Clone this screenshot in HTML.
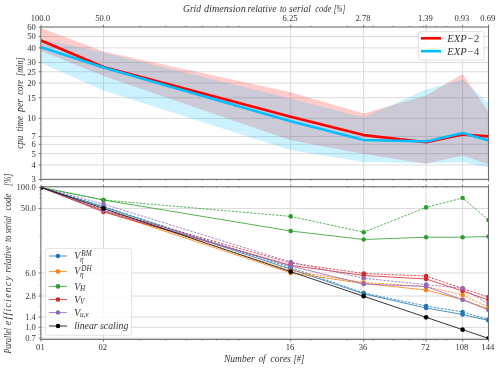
<!DOCTYPE html>
<html><head><meta charset="utf-8"><style>
html,body{margin:0;padding:0;background:#fff;width:500px;height:369px;overflow:hidden}
svg{display:block;will-change:transform}
text{font-family:"Liberation Serif", serif;fill:#333}
</style></head><body>
<svg width="500" height="369" viewBox="0 0 500 369">
<defs><clipPath id="ct"><rect x="40.85" y="27.0" width="447.65" height="152.4"/></clipPath>
<clipPath id="cb"><rect x="40.85" y="186.8" width="447.65" height="152.6"/></clipPath></defs>
<line x1="103.5" y1="27" x2="103.5" y2="179.4" stroke="#dbdbdb" stroke-width="1.0"/>
<line x1="290.7" y1="27" x2="290.7" y2="179.4" stroke="#dbdbdb" stroke-width="1.0"/>
<line x1="363.7" y1="27" x2="363.7" y2="179.4" stroke="#dbdbdb" stroke-width="1.0"/>
<line x1="426.1" y1="27" x2="426.1" y2="179.4" stroke="#dbdbdb" stroke-width="1.0"/>
<line x1="462.6" y1="27" x2="462.6" y2="179.4" stroke="#dbdbdb" stroke-width="1.0"/>
<line x1="488.5" y1="27" x2="488.5" y2="179.4" stroke="#dbdbdb" stroke-width="1.0"/>
<line x1="40.85" y1="36.5" x2="488.5" y2="36.5" stroke="#dbdbdb" stroke-width="1.0"/>
<line x1="40.85" y1="47.85" x2="488.5" y2="47.85" stroke="#dbdbdb" stroke-width="1.0"/>
<line x1="40.85" y1="62.48" x2="488.5" y2="62.48" stroke="#dbdbdb" stroke-width="1.0"/>
<line x1="40.85" y1="71.75" x2="488.5" y2="71.75" stroke="#dbdbdb" stroke-width="1.0"/>
<line x1="40.85" y1="83.1" x2="488.5" y2="83.1" stroke="#dbdbdb" stroke-width="1.0"/>
<line x1="40.85" y1="97.73" x2="488.5" y2="97.73" stroke="#dbdbdb" stroke-width="1.0"/>
<line x1="40.85" y1="118.35" x2="488.5" y2="118.35" stroke="#dbdbdb" stroke-width="1.0"/>
<line x1="40.85" y1="136.49" x2="488.5" y2="136.49" stroke="#dbdbdb" stroke-width="1.0"/>
<line x1="40.85" y1="144.33" x2="488.5" y2="144.33" stroke="#dbdbdb" stroke-width="1.0"/>
<line x1="40.85" y1="153.6" x2="488.5" y2="153.6" stroke="#dbdbdb" stroke-width="1.0"/>
<line x1="40.85" y1="164.95" x2="488.5" y2="164.95" stroke="#dbdbdb" stroke-width="1.0"/>
<g clip-path="url(#ct)">
<polygon points="41.1,28 103.5,51.5 290.7,92.2 363.7,113.6 426.1,95.6 462.6,74 488.5,112 488.5,164.2 462.6,155.6 426.1,163.8 363.7,154 290.7,140.2 103.5,76 41.1,51" fill="#ff0000" fill-opacity="0.2"/>
<polygon points="41.1,39 103.5,52.5 290.7,98.6 363.7,117.6 426.1,89.6 462.6,79.8 488.5,103 488.5,167.6 462.6,162.2 426.1,163.2 363.7,162 290.7,150.2 103.5,90.5 41.1,63.1" fill="#00bfff" fill-opacity="0.2"/>
<polyline points="41.1,40.5 103.5,67 290.7,116.8 363.7,135.1 426.1,142.2 462.6,134.5 488.5,136.4" fill="none" stroke="#ff0000" stroke-width="2.6" stroke-linejoin="round"/>
<polyline points="41.1,47.2 103.5,67.5 290.7,121.2 363.7,139.95 426.1,141.5 462.6,133.05 488.5,140.6" fill="none" stroke="#00bfff" stroke-width="2.6" stroke-linejoin="round"/>
</g>
<rect x="40.85" y="27.0" width="447.65" height="152.4" fill="none" stroke="#6e6e6e" stroke-width="1.1"/>
<line x1="38.65" y1="27.23" x2="40.85" y2="27.23" stroke="#555" stroke-width="0.8"/>
<line x1="38.65" y1="36.5" x2="40.85" y2="36.5" stroke="#555" stroke-width="0.8"/>
<line x1="38.65" y1="47.85" x2="40.85" y2="47.85" stroke="#555" stroke-width="0.8"/>
<line x1="38.65" y1="62.48" x2="40.85" y2="62.48" stroke="#555" stroke-width="0.8"/>
<line x1="38.65" y1="71.75" x2="40.85" y2="71.75" stroke="#555" stroke-width="0.8"/>
<line x1="38.65" y1="83.1" x2="40.85" y2="83.1" stroke="#555" stroke-width="0.8"/>
<line x1="38.65" y1="97.73" x2="40.85" y2="97.73" stroke="#555" stroke-width="0.8"/>
<line x1="38.65" y1="118.35" x2="40.85" y2="118.35" stroke="#555" stroke-width="0.8"/>
<line x1="38.65" y1="136.49" x2="40.85" y2="136.49" stroke="#555" stroke-width="0.8"/>
<line x1="38.65" y1="144.33" x2="40.85" y2="144.33" stroke="#555" stroke-width="0.8"/>
<line x1="38.65" y1="153.6" x2="40.85" y2="153.6" stroke="#555" stroke-width="0.8"/>
<line x1="38.65" y1="164.95" x2="40.85" y2="164.95" stroke="#555" stroke-width="0.8"/>
<line x1="38.65" y1="179.58" x2="40.85" y2="179.58" stroke="#555" stroke-width="0.8"/>
<line x1="39.55" y1="129.7" x2="40.85" y2="129.7" stroke="#555" stroke-width="0.6"/>
<line x1="39.55" y1="123.71" x2="40.85" y2="123.71" stroke="#555" stroke-width="0.6"/>
<line x1="41.1" y1="24.8" x2="41.1" y2="27" stroke="#555" stroke-width="0.8"/>
<line x1="41.1" y1="179.4" x2="41.1" y2="181.6" stroke="#555" stroke-width="0.8"/>
<line x1="103.5" y1="24.8" x2="103.5" y2="27" stroke="#555" stroke-width="0.8"/>
<line x1="103.5" y1="179.4" x2="103.5" y2="181.6" stroke="#555" stroke-width="0.8"/>
<line x1="290.7" y1="24.8" x2="290.7" y2="27" stroke="#555" stroke-width="0.8"/>
<line x1="290.7" y1="179.4" x2="290.7" y2="181.6" stroke="#555" stroke-width="0.8"/>
<line x1="363.7" y1="24.8" x2="363.7" y2="27" stroke="#555" stroke-width="0.8"/>
<line x1="363.7" y1="179.4" x2="363.7" y2="181.6" stroke="#555" stroke-width="0.8"/>
<line x1="426.1" y1="24.8" x2="426.1" y2="27" stroke="#555" stroke-width="0.8"/>
<line x1="426.1" y1="179.4" x2="426.1" y2="181.6" stroke="#555" stroke-width="0.8"/>
<line x1="462.6" y1="24.8" x2="462.6" y2="27" stroke="#555" stroke-width="0.8"/>
<line x1="462.6" y1="179.4" x2="462.6" y2="181.6" stroke="#555" stroke-width="0.8"/>
<line x1="488.5" y1="24.8" x2="488.5" y2="27" stroke="#555" stroke-width="0.8"/>
<line x1="488.5" y1="179.4" x2="488.5" y2="181.6" stroke="#555" stroke-width="0.8"/>
<line x1="140" y1="25.7" x2="140" y2="27" stroke="#555" stroke-width="0.6"/>
<line x1="140" y1="179.4" x2="140" y2="180.7" stroke="#555" stroke-width="0.6"/>
<line x1="165.9" y1="25.7" x2="165.9" y2="27" stroke="#555" stroke-width="0.6"/>
<line x1="165.9" y1="179.4" x2="165.9" y2="180.7" stroke="#555" stroke-width="0.6"/>
<line x1="185.99" y1="25.7" x2="185.99" y2="27" stroke="#555" stroke-width="0.6"/>
<line x1="185.99" y1="179.4" x2="185.99" y2="180.7" stroke="#555" stroke-width="0.6"/>
<line x1="202.4" y1="25.7" x2="202.4" y2="27" stroke="#555" stroke-width="0.6"/>
<line x1="202.4" y1="179.4" x2="202.4" y2="180.7" stroke="#555" stroke-width="0.6"/>
<line x1="216.28" y1="25.7" x2="216.28" y2="27" stroke="#555" stroke-width="0.6"/>
<line x1="216.28" y1="179.4" x2="216.28" y2="180.7" stroke="#555" stroke-width="0.6"/>
<line x1="228.3" y1="25.7" x2="228.3" y2="27" stroke="#555" stroke-width="0.6"/>
<line x1="228.3" y1="179.4" x2="228.3" y2="180.7" stroke="#555" stroke-width="0.6"/>
<line x1="238.9" y1="25.7" x2="238.9" y2="27" stroke="#555" stroke-width="0.6"/>
<line x1="238.9" y1="179.4" x2="238.9" y2="180.7" stroke="#555" stroke-width="0.6"/>
<line x1="310.79" y1="25.7" x2="310.79" y2="27" stroke="#555" stroke-width="0.6"/>
<line x1="310.79" y1="179.4" x2="310.79" y2="180.7" stroke="#555" stroke-width="0.6"/>
<line x1="347.29" y1="25.7" x2="347.29" y2="27" stroke="#555" stroke-width="0.6"/>
<line x1="347.29" y1="179.4" x2="347.29" y2="180.7" stroke="#555" stroke-width="0.6"/>
<line x1="373.19" y1="25.7" x2="373.19" y2="27" stroke="#555" stroke-width="0.6"/>
<line x1="373.19" y1="179.4" x2="373.19" y2="180.7" stroke="#555" stroke-width="0.6"/>
<line x1="393.27" y1="25.7" x2="393.27" y2="27" stroke="#555" stroke-width="0.6"/>
<line x1="393.27" y1="179.4" x2="393.27" y2="180.7" stroke="#555" stroke-width="0.6"/>
<line x1="409.69" y1="25.7" x2="409.69" y2="27" stroke="#555" stroke-width="0.6"/>
<line x1="409.69" y1="179.4" x2="409.69" y2="180.7" stroke="#555" stroke-width="0.6"/>
<line x1="423.56" y1="25.7" x2="423.56" y2="27" stroke="#555" stroke-width="0.6"/>
<line x1="423.56" y1="179.4" x2="423.56" y2="180.7" stroke="#555" stroke-width="0.6"/>
<line x1="435.59" y1="25.7" x2="435.59" y2="27" stroke="#555" stroke-width="0.6"/>
<line x1="435.59" y1="179.4" x2="435.59" y2="180.7" stroke="#555" stroke-width="0.6"/>
<line x1="446.19" y1="25.7" x2="446.19" y2="27" stroke="#555" stroke-width="0.6"/>
<line x1="446.19" y1="179.4" x2="446.19" y2="180.7" stroke="#555" stroke-width="0.6"/>
<text x="35.9" y="30.13" font-size="8.6" text-anchor="end">60</text>
<text x="35.9" y="39.4" font-size="8.6" text-anchor="end">50</text>
<text x="35.9" y="50.75" font-size="8.6" text-anchor="end">40</text>
<text x="35.9" y="65.38" font-size="8.6" text-anchor="end">30</text>
<text x="35.9" y="74.65" font-size="8.6" text-anchor="end">25</text>
<text x="35.9" y="86" font-size="8.6" text-anchor="end">20</text>
<text x="35.9" y="100.63" font-size="8.6" text-anchor="end">15</text>
<text x="35.9" y="121.25" font-size="8.6" text-anchor="end">10</text>
<text x="35.9" y="139.39" font-size="8.6" text-anchor="end">7</text>
<text x="35.9" y="147.23" font-size="8.6" text-anchor="end">6</text>
<text x="35.9" y="156.5" font-size="8.6" text-anchor="end">5</text>
<text x="35.9" y="167.85" font-size="8.6" text-anchor="end">4</text>
<text x="35.9" y="182.48" font-size="8.6" text-anchor="end">3</text>
<text x="40.4" y="21" font-size="8.6" text-anchor="middle">100.0</text>
<text x="102.8" y="21" font-size="8.6" text-anchor="middle">50.0</text>
<text x="290" y="21" font-size="8.6" text-anchor="middle">6.25</text>
<text x="363" y="21" font-size="8.6" text-anchor="middle">2.78</text>
<text x="425.4" y="21" font-size="8.6" text-anchor="middle">1.39</text>
<text x="461.9" y="21" font-size="8.6" text-anchor="middle">0.93</text>
<text x="487.8" y="21" font-size="8.6" text-anchor="middle">0.69</text>
<text x="183" y="11.6" font-size="9.6" font-style="italic" textLength="18" lengthAdjust="spacingAndGlyphs">Grid</text>
<text x="204" y="11.6" font-size="9.6" font-style="italic" textLength="41.8" lengthAdjust="spacingAndGlyphs">dimension</text>
<text x="247.6" y="11.6" font-size="9.6" font-style="italic" textLength="28.8" lengthAdjust="spacingAndGlyphs">relative</text>
<text x="280" y="11.6" font-size="9.6" font-style="italic" textLength="6.6" lengthAdjust="spacingAndGlyphs">to</text>
<text x="289" y="11.6" font-size="9.6" font-style="italic" textLength="22" lengthAdjust="spacingAndGlyphs">serial</text>
<text x="315.2" y="11.6" font-size="9.6" font-style="italic" textLength="16.2" lengthAdjust="spacingAndGlyphs">code</text>
<text x="333.8" y="11.6" font-size="9.6" font-style="italic" textLength="11.4" lengthAdjust="spacingAndGlyphs">[%]</text>
<g transform="translate(23,0) rotate(-90)">
<text x="-148.7" y="0" font-size="9.6" font-style="italic" textLength="13.1" lengthAdjust="spacingAndGlyphs">cpu</text>
<text x="-131.6" y="0" font-size="9.6" font-style="italic" textLength="15.5" lengthAdjust="spacingAndGlyphs">time</text>
<text x="-112" y="0" font-size="9.6" font-style="italic" textLength="13.2" lengthAdjust="spacingAndGlyphs">per</text>
<text x="-94.7" y="0" font-size="9.6" font-style="italic" textLength="14.7" lengthAdjust="spacingAndGlyphs">core</text>
<text x="-76" y="0" font-size="9.6" font-style="italic" textLength="18.7" lengthAdjust="spacingAndGlyphs">[min]</text>
</g>
<rect x="418.5" y="31.5" width="65.7" height="28.6" rx="2" ry="2" fill="#fff" fill-opacity="0.8" stroke="#dcdcdc" stroke-width="0.8"/>
<line x1="421" y1="38.3" x2="441" y2="38.3" stroke="#ff0000" stroke-width="2.6"/>
<line x1="421" y1="51.2" x2="441" y2="51.2" stroke="#00bfff" stroke-width="2.6"/>
<text x="447.2" y="42.1" font-size="10.5" textLength="32" lengthAdjust="spacing"><tspan font-style="italic">EXP&#8722;</tspan>2</text>
<text x="447.2" y="55" font-size="10.5" textLength="32" lengthAdjust="spacing"><tspan font-style="italic">EXP&#8722;</tspan>4</text>
<line x1="103.5" y1="186.8" x2="103.5" y2="339.4" stroke="#dbdbdb" stroke-width="1.0"/>
<line x1="290.7" y1="186.8" x2="290.7" y2="339.4" stroke="#dbdbdb" stroke-width="1.0"/>
<line x1="363.7" y1="186.8" x2="363.7" y2="339.4" stroke="#dbdbdb" stroke-width="1.0"/>
<line x1="426.1" y1="186.8" x2="426.1" y2="339.4" stroke="#dbdbdb" stroke-width="1.0"/>
<line x1="462.6" y1="186.8" x2="462.6" y2="339.4" stroke="#dbdbdb" stroke-width="1.0"/>
<line x1="488.5" y1="186.8" x2="488.5" y2="339.4" stroke="#dbdbdb" stroke-width="1.0"/>
<line x1="40.85" y1="208.49" x2="488.5" y2="208.49" stroke="#dbdbdb" stroke-width="1.0"/>
<line x1="40.85" y1="272.9" x2="488.5" y2="272.9" stroke="#dbdbdb" stroke-width="1.0"/>
<line x1="40.85" y1="296.05" x2="488.5" y2="296.05" stroke="#dbdbdb" stroke-width="1.0"/>
<line x1="40.85" y1="317.1" x2="488.5" y2="317.1" stroke="#dbdbdb" stroke-width="1.0"/>
<line x1="40.85" y1="327.32" x2="488.5" y2="327.32" stroke="#dbdbdb" stroke-width="1.0"/>
<line x1="40.85" y1="338.15" x2="488.5" y2="338.15" stroke="#dbdbdb" stroke-width="1.0"/>
<g clip-path="url(#cb)">
<polyline points="41.1,187.44 103.5,207 290.7,269.2 363.7,293.8 426.1,308 462.6,314.5 488.5,320.5" fill="none" stroke="#1f77b4" stroke-width="0.8"/>
<circle cx="41.1" cy="187.44" r="2.3" fill="#1f77b4"/>
<circle cx="103.5" cy="207" r="2.3" fill="#1f77b4"/>
<circle cx="290.7" cy="269.2" r="2.3" fill="#1f77b4"/>
<circle cx="363.7" cy="293.8" r="2.3" fill="#1f77b4"/>
<circle cx="426.1" cy="308" r="2.3" fill="#1f77b4"/>
<circle cx="462.6" cy="314.5" r="2.3" fill="#1f77b4"/>
<circle cx="488.5" cy="320.5" r="2.3" fill="#1f77b4"/>
<polyline points="41.1,187.44 103.5,206.5 290.7,267.6 363.7,293 426.1,306 462.6,312 488.5,319.5" fill="none" stroke="#1f77b4" stroke-width="0.8" stroke-dasharray="2.4,1.3"/>
<circle cx="41.1" cy="187.44" r="2.3" fill="#1f77b4"/>
<circle cx="103.5" cy="206.5" r="2.3" fill="#1f77b4"/>
<circle cx="290.7" cy="267.6" r="2.3" fill="#1f77b4"/>
<circle cx="363.7" cy="293" r="2.3" fill="#1f77b4"/>
<circle cx="426.1" cy="306" r="2.3" fill="#1f77b4"/>
<circle cx="462.6" cy="312" r="2.3" fill="#1f77b4"/>
<circle cx="488.5" cy="319.5" r="2.3" fill="#1f77b4"/>
<polyline points="41.1,187.44 103.5,211 290.7,272.9 363.7,283.5 426.1,290 462.6,299.6 488.5,309" fill="none" stroke="#ff7f0e" stroke-width="0.8"/>
<circle cx="41.1" cy="187.44" r="2.3" fill="#ff7f0e"/>
<circle cx="103.5" cy="211" r="2.3" fill="#ff7f0e"/>
<circle cx="290.7" cy="272.9" r="2.3" fill="#ff7f0e"/>
<circle cx="363.7" cy="283.5" r="2.3" fill="#ff7f0e"/>
<circle cx="426.1" cy="290" r="2.3" fill="#ff7f0e"/>
<circle cx="462.6" cy="299.6" r="2.3" fill="#ff7f0e"/>
<circle cx="488.5" cy="309" r="2.3" fill="#ff7f0e"/>
<polyline points="41.1,187.44 103.5,210.5 290.7,270.5 363.7,282.5 426.1,286.5 462.6,295 488.5,306.9" fill="none" stroke="#ff7f0e" stroke-width="0.8" stroke-dasharray="2.4,1.3"/>
<circle cx="41.1" cy="187.44" r="2.3" fill="#ff7f0e"/>
<circle cx="103.5" cy="210.5" r="2.3" fill="#ff7f0e"/>
<circle cx="290.7" cy="270.5" r="2.3" fill="#ff7f0e"/>
<circle cx="363.7" cy="282.5" r="2.3" fill="#ff7f0e"/>
<circle cx="426.1" cy="286.5" r="2.3" fill="#ff7f0e"/>
<circle cx="462.6" cy="295" r="2.3" fill="#ff7f0e"/>
<circle cx="488.5" cy="306.9" r="2.3" fill="#ff7f0e"/>
<polyline points="41.1,187.44 103.5,200 290.7,231 363.7,239.5 426.1,237.2 462.6,237.2 488.5,236.6" fill="none" stroke="#2ca02c" stroke-width="0.8"/>
<circle cx="41.1" cy="187.44" r="2.3" fill="#2ca02c"/>
<circle cx="103.5" cy="200" r="2.3" fill="#2ca02c"/>
<circle cx="290.7" cy="231" r="2.3" fill="#2ca02c"/>
<circle cx="363.7" cy="239.5" r="2.3" fill="#2ca02c"/>
<circle cx="426.1" cy="237.2" r="2.3" fill="#2ca02c"/>
<circle cx="462.6" cy="237.2" r="2.3" fill="#2ca02c"/>
<circle cx="488.5" cy="236.6" r="2.3" fill="#2ca02c"/>
<polyline points="41.1,187.44 103.5,200 290.7,216.4 363.7,232.2 426.1,207.4 462.6,198 488.5,220" fill="none" stroke="#2ca02c" stroke-width="0.8" stroke-dasharray="2.4,1.3"/>
<circle cx="41.1" cy="187.44" r="2.3" fill="#2ca02c"/>
<circle cx="103.5" cy="200" r="2.3" fill="#2ca02c"/>
<circle cx="290.7" cy="216.4" r="2.3" fill="#2ca02c"/>
<circle cx="363.7" cy="232.2" r="2.3" fill="#2ca02c"/>
<circle cx="426.1" cy="207.4" r="2.3" fill="#2ca02c"/>
<circle cx="462.6" cy="198" r="2.3" fill="#2ca02c"/>
<circle cx="488.5" cy="220" r="2.3" fill="#2ca02c"/>
<polyline points="41.1,187.44 103.5,212 290.7,265.3 363.7,275.5 426.1,279 462.6,291 488.5,300" fill="none" stroke="#d62728" stroke-width="0.8"/>
<circle cx="41.1" cy="187.44" r="2.3" fill="#d62728"/>
<circle cx="103.5" cy="212" r="2.3" fill="#d62728"/>
<circle cx="290.7" cy="265.3" r="2.3" fill="#d62728"/>
<circle cx="363.7" cy="275.5" r="2.3" fill="#d62728"/>
<circle cx="426.1" cy="279" r="2.3" fill="#d62728"/>
<circle cx="462.6" cy="291" r="2.3" fill="#d62728"/>
<circle cx="488.5" cy="300" r="2.3" fill="#d62728"/>
<polyline points="41.1,187.44 103.5,210 290.7,263 363.7,273.5 426.1,276 462.6,288.5 488.5,297" fill="none" stroke="#d62728" stroke-width="0.8" stroke-dasharray="2.4,1.3"/>
<circle cx="41.1" cy="187.44" r="2.3" fill="#d62728"/>
<circle cx="103.5" cy="210" r="2.3" fill="#d62728"/>
<circle cx="290.7" cy="263" r="2.3" fill="#d62728"/>
<circle cx="363.7" cy="273.5" r="2.3" fill="#d62728"/>
<circle cx="426.1" cy="276" r="2.3" fill="#d62728"/>
<circle cx="462.6" cy="288.5" r="2.3" fill="#d62728"/>
<circle cx="488.5" cy="297" r="2.3" fill="#d62728"/>
<polyline points="41.1,187.44 103.5,210.6 290.7,266 363.7,284 426.1,286.5 462.6,299.8 488.5,310" fill="none" stroke="#9467bd" stroke-width="0.8"/>
<circle cx="41.1" cy="187.44" r="2.3" fill="#9467bd"/>
<circle cx="103.5" cy="210.6" r="2.3" fill="#9467bd"/>
<circle cx="290.7" cy="266" r="2.3" fill="#9467bd"/>
<circle cx="363.7" cy="284" r="2.3" fill="#9467bd"/>
<circle cx="426.1" cy="286.5" r="2.3" fill="#9467bd"/>
<circle cx="462.6" cy="299.8" r="2.3" fill="#9467bd"/>
<circle cx="488.5" cy="310" r="2.3" fill="#9467bd"/>
<polyline points="41.1,187.44 103.5,204.1 290.7,262 363.7,278.3 426.1,284.6 462.6,288.3 488.5,304" fill="none" stroke="#9467bd" stroke-width="0.8" stroke-dasharray="2.4,1.3"/>
<circle cx="41.1" cy="187.44" r="2.3" fill="#9467bd"/>
<circle cx="103.5" cy="204.1" r="2.3" fill="#9467bd"/>
<circle cx="290.7" cy="262" r="2.3" fill="#9467bd"/>
<circle cx="363.7" cy="278.3" r="2.3" fill="#9467bd"/>
<circle cx="426.1" cy="284.6" r="2.3" fill="#9467bd"/>
<circle cx="462.6" cy="288.3" r="2.3" fill="#9467bd"/>
<circle cx="488.5" cy="304" r="2.3" fill="#9467bd"/>
<polyline points="41.1,187.44 103.5,208.49 290.7,271.66 363.7,296.29 426.1,317.34 462.6,329.66 488.5,338.4" fill="none" stroke="#000" stroke-width="0.8"/>
<circle cx="41.1" cy="187.44" r="2.3" fill="#000"/>
<circle cx="103.5" cy="208.49" r="2.3" fill="#000"/>
<circle cx="290.7" cy="271.66" r="2.3" fill="#000"/>
<circle cx="363.7" cy="296.29" r="2.3" fill="#000"/>
<circle cx="426.1" cy="317.34" r="2.3" fill="#000"/>
<circle cx="462.6" cy="329.66" r="2.3" fill="#000"/>
<circle cx="488.5" cy="338.4" r="2.3" fill="#000"/>
</g>
<rect x="40.85" y="186.8" width="447.65" height="152.6" fill="none" stroke="#6e6e6e" stroke-width="1.1"/>
<line x1="38.65" y1="187.44" x2="40.85" y2="187.44" stroke="#555" stroke-width="0.8"/>
<line x1="38.65" y1="208.49" x2="40.85" y2="208.49" stroke="#555" stroke-width="0.8"/>
<line x1="38.65" y1="272.9" x2="40.85" y2="272.9" stroke="#555" stroke-width="0.8"/>
<line x1="38.65" y1="296.05" x2="40.85" y2="296.05" stroke="#555" stroke-width="0.8"/>
<line x1="38.65" y1="317.1" x2="40.85" y2="317.1" stroke="#555" stroke-width="0.8"/>
<line x1="38.65" y1="327.32" x2="40.85" y2="327.32" stroke="#555" stroke-width="0.8"/>
<line x1="38.65" y1="338.15" x2="40.85" y2="338.15" stroke="#555" stroke-width="0.8"/>
<line x1="39.55" y1="334.1" x2="40.85" y2="334.1" stroke="#555" stroke-width="0.6"/>
<line x1="39.55" y1="330.52" x2="40.85" y2="330.52" stroke="#555" stroke-width="0.6"/>
<line x1="39.55" y1="306.27" x2="40.85" y2="306.27" stroke="#555" stroke-width="0.6"/>
<line x1="39.55" y1="293.95" x2="40.85" y2="293.95" stroke="#555" stroke-width="0.6"/>
<line x1="39.55" y1="285.21" x2="40.85" y2="285.21" stroke="#555" stroke-width="0.6"/>
<line x1="39.55" y1="278.43" x2="40.85" y2="278.43" stroke="#555" stroke-width="0.6"/>
<line x1="39.55" y1="268.21" x2="40.85" y2="268.21" stroke="#555" stroke-width="0.6"/>
<line x1="39.55" y1="264.16" x2="40.85" y2="264.16" stroke="#555" stroke-width="0.6"/>
<line x1="39.55" y1="260.58" x2="40.85" y2="260.58" stroke="#555" stroke-width="0.6"/>
<line x1="39.55" y1="257.38" x2="40.85" y2="257.38" stroke="#555" stroke-width="0.6"/>
<line x1="39.55" y1="236.33" x2="40.85" y2="236.33" stroke="#555" stroke-width="0.6"/>
<line x1="39.55" y1="224.01" x2="40.85" y2="224.01" stroke="#555" stroke-width="0.6"/>
<line x1="39.55" y1="215.27" x2="40.85" y2="215.27" stroke="#555" stroke-width="0.6"/>
<line x1="39.55" y1="202.96" x2="40.85" y2="202.96" stroke="#555" stroke-width="0.6"/>
<line x1="39.55" y1="198.27" x2="40.85" y2="198.27" stroke="#555" stroke-width="0.6"/>
<line x1="39.55" y1="194.22" x2="40.85" y2="194.22" stroke="#555" stroke-width="0.6"/>
<line x1="39.55" y1="190.64" x2="40.85" y2="190.64" stroke="#555" stroke-width="0.6"/>
<line x1="41.1" y1="339.4" x2="41.1" y2="341.6" stroke="#555" stroke-width="0.8"/>
<line x1="41.1" y1="184.6" x2="41.1" y2="186.8" stroke="#555" stroke-width="0.8"/>
<line x1="103.5" y1="339.4" x2="103.5" y2="341.6" stroke="#555" stroke-width="0.8"/>
<line x1="103.5" y1="184.6" x2="103.5" y2="186.8" stroke="#555" stroke-width="0.8"/>
<line x1="290.7" y1="339.4" x2="290.7" y2="341.6" stroke="#555" stroke-width="0.8"/>
<line x1="290.7" y1="184.6" x2="290.7" y2="186.8" stroke="#555" stroke-width="0.8"/>
<line x1="363.7" y1="339.4" x2="363.7" y2="341.6" stroke="#555" stroke-width="0.8"/>
<line x1="363.7" y1="184.6" x2="363.7" y2="186.8" stroke="#555" stroke-width="0.8"/>
<line x1="426.1" y1="339.4" x2="426.1" y2="341.6" stroke="#555" stroke-width="0.8"/>
<line x1="426.1" y1="184.6" x2="426.1" y2="186.8" stroke="#555" stroke-width="0.8"/>
<line x1="462.6" y1="339.4" x2="462.6" y2="341.6" stroke="#555" stroke-width="0.8"/>
<line x1="462.6" y1="184.6" x2="462.6" y2="186.8" stroke="#555" stroke-width="0.8"/>
<line x1="488.5" y1="339.4" x2="488.5" y2="341.6" stroke="#555" stroke-width="0.8"/>
<line x1="488.5" y1="184.6" x2="488.5" y2="186.8" stroke="#555" stroke-width="0.8"/>
<line x1="140" y1="339.4" x2="140" y2="340.7" stroke="#555" stroke-width="0.6"/>
<line x1="140" y1="186" x2="140" y2="187.6" stroke="#555" stroke-width="0.6"/>
<line x1="165.9" y1="339.4" x2="165.9" y2="340.7" stroke="#555" stroke-width="0.6"/>
<line x1="165.9" y1="186" x2="165.9" y2="187.6" stroke="#555" stroke-width="0.6"/>
<line x1="185.99" y1="339.4" x2="185.99" y2="340.7" stroke="#555" stroke-width="0.6"/>
<line x1="185.99" y1="186" x2="185.99" y2="187.6" stroke="#555" stroke-width="0.6"/>
<line x1="202.4" y1="339.4" x2="202.4" y2="340.7" stroke="#555" stroke-width="0.6"/>
<line x1="202.4" y1="186" x2="202.4" y2="187.6" stroke="#555" stroke-width="0.6"/>
<line x1="216.28" y1="339.4" x2="216.28" y2="340.7" stroke="#555" stroke-width="0.6"/>
<line x1="216.28" y1="186" x2="216.28" y2="187.6" stroke="#555" stroke-width="0.6"/>
<line x1="228.3" y1="339.4" x2="228.3" y2="340.7" stroke="#555" stroke-width="0.6"/>
<line x1="228.3" y1="186" x2="228.3" y2="187.6" stroke="#555" stroke-width="0.6"/>
<line x1="238.9" y1="339.4" x2="238.9" y2="340.7" stroke="#555" stroke-width="0.6"/>
<line x1="238.9" y1="186" x2="238.9" y2="187.6" stroke="#555" stroke-width="0.6"/>
<line x1="310.79" y1="339.4" x2="310.79" y2="340.7" stroke="#555" stroke-width="0.6"/>
<line x1="310.79" y1="186" x2="310.79" y2="187.6" stroke="#555" stroke-width="0.6"/>
<line x1="347.29" y1="339.4" x2="347.29" y2="340.7" stroke="#555" stroke-width="0.6"/>
<line x1="347.29" y1="186" x2="347.29" y2="187.6" stroke="#555" stroke-width="0.6"/>
<line x1="373.19" y1="339.4" x2="373.19" y2="340.7" stroke="#555" stroke-width="0.6"/>
<line x1="373.19" y1="186" x2="373.19" y2="187.6" stroke="#555" stroke-width="0.6"/>
<line x1="393.27" y1="339.4" x2="393.27" y2="340.7" stroke="#555" stroke-width="0.6"/>
<line x1="393.27" y1="186" x2="393.27" y2="187.6" stroke="#555" stroke-width="0.6"/>
<line x1="409.69" y1="339.4" x2="409.69" y2="340.7" stroke="#555" stroke-width="0.6"/>
<line x1="409.69" y1="186" x2="409.69" y2="187.6" stroke="#555" stroke-width="0.6"/>
<line x1="423.56" y1="339.4" x2="423.56" y2="340.7" stroke="#555" stroke-width="0.6"/>
<line x1="423.56" y1="186" x2="423.56" y2="187.6" stroke="#555" stroke-width="0.6"/>
<line x1="435.59" y1="339.4" x2="435.59" y2="340.7" stroke="#555" stroke-width="0.6"/>
<line x1="435.59" y1="186" x2="435.59" y2="187.6" stroke="#555" stroke-width="0.6"/>
<line x1="446.19" y1="339.4" x2="446.19" y2="340.7" stroke="#555" stroke-width="0.6"/>
<line x1="446.19" y1="186" x2="446.19" y2="187.6" stroke="#555" stroke-width="0.6"/>
<text x="35.9" y="190.34" font-size="8.6" text-anchor="end">100.0</text>
<text x="35.9" y="211.39" font-size="8.6" text-anchor="end">50.0</text>
<text x="35.9" y="275.8" font-size="8.6" text-anchor="end">6.0</text>
<text x="35.9" y="298.95" font-size="8.6" text-anchor="end">2.8</text>
<text x="35.9" y="320" font-size="8.6" text-anchor="end">1.4</text>
<text x="35.9" y="330.22" font-size="8.6" text-anchor="end">1.0</text>
<text x="35.9" y="341.05" font-size="8.6" text-anchor="end">0.7</text>
<text x="40.4" y="350" font-size="8.6" text-anchor="middle">01</text>
<text x="102.8" y="350" font-size="8.6" text-anchor="middle">02</text>
<text x="290" y="350" font-size="8.6" text-anchor="middle">16</text>
<text x="363" y="350" font-size="8.6" text-anchor="middle">36</text>
<text x="425.4" y="350" font-size="8.6" text-anchor="middle">72</text>
<text x="461.9" y="350" font-size="8.6" text-anchor="middle">108</text>
<text x="487.8" y="350" font-size="8.6" text-anchor="middle">144</text>
<text x="224" y="361.7" font-size="9.8" font-style="italic" textLength="30.7" lengthAdjust="spacingAndGlyphs">Number</text>
<text x="258.7" y="361.7" font-size="9.8" font-style="italic" textLength="6.9" lengthAdjust="spacingAndGlyphs">of</text>
<text x="270.6" y="361.7" font-size="9.8" font-style="italic" textLength="20.2" lengthAdjust="spacingAndGlyphs">cores</text>
<text x="293.5" y="361.7" font-size="9.8" font-style="italic" textLength="10.8" lengthAdjust="spacingAndGlyphs">[#]</text>
<g transform="translate(11.4,0) rotate(-90)">
<text x="-353.6" y="0" font-size="9.6" font-style="italic" textLength="25.6" lengthAdjust="spacingAndGlyphs">Parallel</text>
<text x="-325" y="0" font-size="9.6" font-style="italic" textLength="48.8" lengthAdjust="spacing">efficiency</text>
<text x="-272.4" y="0" font-size="9.6" font-style="italic" textLength="26.5" lengthAdjust="spacingAndGlyphs">relative</text>
<text x="-242" y="0" font-size="9.6" font-style="italic" textLength="6.6" lengthAdjust="spacingAndGlyphs">to</text>
<text x="-233.3" y="0" font-size="9.6" font-style="italic" textLength="17.1" lengthAdjust="spacingAndGlyphs">serial</text>
<text x="-210.5" y="0" font-size="9.6" font-style="italic" textLength="17" lengthAdjust="spacingAndGlyphs">code</text>
<text x="-185.9" y="0" font-size="9.6" font-style="italic" textLength="12.4" lengthAdjust="spacingAndGlyphs">[%]</text>
</g>
<rect x="45.6" y="248.4" width="86" height="86.9" rx="2" ry="2" fill="#fff" fill-opacity="0.8" stroke="#dcdcdc" stroke-width="0.8"/>
<line x1="49" y1="256" x2="67" y2="256" stroke="#1f77b4" stroke-width="0.8"/>
<circle cx="58" cy="256" r="2.3" fill="#1f77b4"/>
<line x1="49" y1="271.5" x2="67" y2="271.5" stroke="#ff7f0e" stroke-width="0.8"/>
<circle cx="58" cy="271.5" r="2.3" fill="#ff7f0e"/>
<line x1="49" y1="286.4" x2="67" y2="286.4" stroke="#2ca02c" stroke-width="0.8"/>
<circle cx="58" cy="286.4" r="2.3" fill="#2ca02c"/>
<line x1="49" y1="299.5" x2="67" y2="299.5" stroke="#d62728" stroke-width="0.8"/>
<circle cx="58" cy="299.5" r="2.3" fill="#d62728"/>
<line x1="49" y1="312.5" x2="67" y2="312.5" stroke="#9467bd" stroke-width="0.8"/>
<circle cx="58" cy="312.5" r="2.3" fill="#9467bd"/>
<line x1="49" y1="326" x2="67" y2="326" stroke="#000000" stroke-width="0.8"/>
<circle cx="58" cy="326" r="2.3" fill="#000000"/>
<text x="74.3" y="258.75" font-size="9.8" font-style="italic">V</text>
<text x="81.3" y="255.75" font-size="7.2" font-style="italic">BM</text>
<text x="80" y="261.6" font-size="7.2" font-style="italic">&#951;</text>
<text x="74.3" y="274.25" font-size="9.8" font-style="italic">V</text>
<text x="81.3" y="271.25" font-size="7.2" font-style="italic">DH</text>
<text x="80" y="277.1" font-size="7.2" font-style="italic">&#951;</text>
<text x="74.3" y="289.75" font-size="9.8" font-style="italic">V</text>
<text x="79.9" y="290.75" font-size="7.2" font-style="italic">H</text>
<text x="74.3" y="302.75" font-size="9.8" font-style="italic">V</text>
<text x="80" y="304.25" font-size="7.2" font-style="italic">V</text>
<text x="74.3" y="315.75" font-size="9.8" font-style="italic">V</text>
<text x="79.9" y="317.25" font-size="7.2" font-style="italic">u,v</text>
<text x="74.2" y="329.2" font-size="9.8" font-style="italic">linear scaling</text>
</svg></body></html>
